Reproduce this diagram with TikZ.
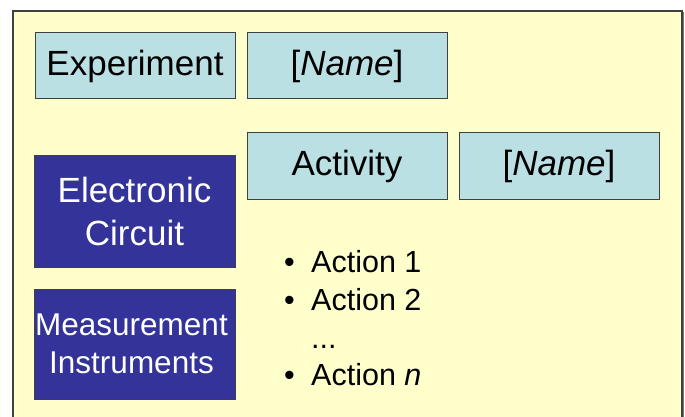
\documentclass[tikz,border=0pt]{standalone}
\usepackage{fontspec}
\setmainfont{Liberation Sans}
\definecolor{bgyellow}{HTML}{FFFFCC}
\definecolor{lblue}{HTML}{BBE0E3}
\definecolor{navy}{HTML}{333399}
\definecolor{frame}{HTML}{404040}
\tikzset{
  lbox/.style={draw=frame, line width=1pt, fill=lblue, minimum width=200pt, minimum height=66pt, inner sep=0pt, font=\fontsize{35}{42}\selectfont},
  dbox/.style={draw=frame, line width=1pt, fill=navy, text=white, minimum width=201pt, inner sep=0pt, align=center},
  item/.style={anchor=base west, inner sep=0pt, font=\fontsize{30.5}{36}\selectfont}
}
\begin{document}
\begin{tikzpicture}[x=1pt,y=-1pt]
\useasboundingbox (0,0) rectangle (685,417);
\fill[white] (0,0) rectangle (685,417);
\fill[bgyellow] (13,11) rectangle (682,417);
\draw[frame, line width=1.5pt] (13,417) -- (13,11) -- (682,11) -- (682,417);
\draw[frame!70, line width=1.5pt] (683.5,12) -- (683.5,417);
\node[lbox] (exp) at (135,66) {Experiment};
\node[lbox] (name1) at (347,66) {[\textit{Name}]};
\node[lbox] (act) at (347,166) {Activity};
\node[lbox] (name2) at (559,166) {[\textit{Name}]};
\node[dbox, minimum height=112pt, font=\fontsize{35}{43}\selectfont] (ec) at (134.5,211) {Electronic\\Circuit};
\node[dbox, minimum height=110pt] (mi) at (134.5,344) {};
\node[anchor=center, text=white, align=center, inner sep=0pt, font=\fontsize{31.5}{38}\selectfont] (mit) at ([xshift=-3pt]mi.center) {Measurement\\Instruments};
\node[item] (b1) at (284,272) {•};
\node[item] (a1) at (311,272) {Action 1};
\node[item] (b2) at (284,310) {•};
\node[item] (a2) at (311,310) {Action 2};
\node[item] (dots) at (311,348) {...};
\node[item] (b3) at (284,385) {•};
\node[item] (a3) at (311,385) {Action \textit{n}};
\end{tikzpicture}
\end{document}
